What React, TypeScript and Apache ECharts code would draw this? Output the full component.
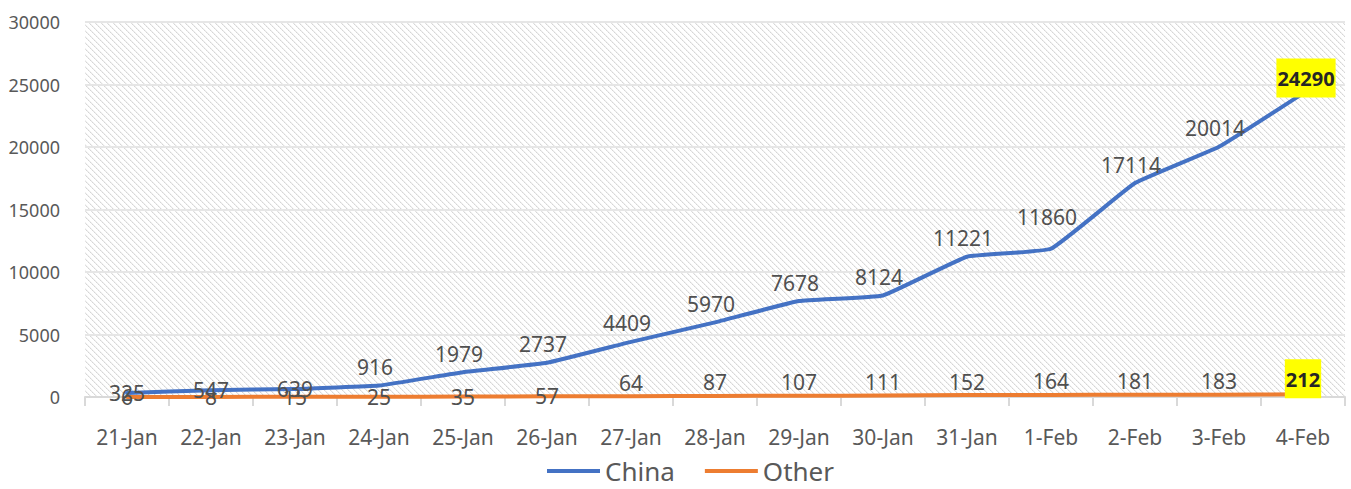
import React, { useEffect, useRef } from "react";
import * as echarts from "echarts";

const categories = ["21-Jan","22-Jan","23-Jan","24-Jan","25-Jan","26-Jan","27-Jan","28-Jan","29-Jan","30-Jan","31-Jan","1-Feb","2-Feb","3-Feb","4-Feb"];
const china = [325, 547, 639, 916, 1979, 2737, 4409, 5970, 7678, 8124, 11221, 11860, 17114, 20014, 24290];
const other = [6, 8, 15, 25, 35, 57, 64, 87, 107, 111, 152, 164, 181, 183, 212];
const chinaCentered = 3;
const otherCentered = 6;

const FONT = "'Noto Sans', 'Open Sans', sans-serif";

function makePattern(): HTMLCanvasElement {
  const n = 6;
  const c = document.createElement("canvas");
  c.width = n;
  c.height = n;
  const ctx = c.getContext("2d")!;
  ctx.fillStyle = "#ffffff";
  ctx.fillRect(0, 0, n, n);
  for (let i = 0; i < n; i++) {
    ctx.fillStyle = i % 2 === 0 ? "#d6d6d6" : "#e2e2e2";
    ctx.fillRect(i, i, 1, 1);
    ctx.fillStyle = "#f2f2f2";
    ctx.fillRect((i + 1) % n, i, 1, 1);
  }
  return c;
}

export default function App() {
  const ref = useRef<HTMLDivElement>(null);
  useEffect(() => {
    const chart = echarts.init(ref.current!, null, { renderer: "svg" });
    const pat = makePattern();
    const last = categories.length - 1;
    const hl = () => ({
      show: true,
      position: "top",
      distance: -4,
      offset: [3, 0],
      fontWeight: "bold",
      color: "#262626",
      backgroundColor: "#ffff00",
      padding: [10, 1, 9, 1],
      fontSize: 20,
    });
    const chinaData = china.map((v, i) => {
      if (i === last) return { value: v, label: hl() };
      if (i < chinaCentered) return { value: v, label: { position: "inside", offset: [0, 0] } };
      if (i === 11) return { value: v, label: { offset: [-4, -13] } };
      return v;
    });
    const otherData = other.map((v, i) => {
      if (i === last) return { value: v, label: { ...hl(), offset: [0, 0] } };
      if (i < otherCentered) return { value: v, label: { position: "inside" } };
      return v;
    });
    chart.setOption({
      animation: false,
      textStyle: { fontFamily: FONT },
      grid: {
        left: 85,
        right: 6,
        top: 22,
        bottom: 92,
        show: true,
        borderWidth: 0,
        backgroundColor: { image: pat.toDataURL(), repeat: "repeat" },
      },
      legend: {
        bottom: 3,
        left: 542,
        padding: [2, 5, 1, 5],
        itemWidth: 53,
        itemHeight: 4,
        itemGap: 30,
        icon: "rect",
        textStyle: { fontSize: 26, lineHeight: 28, color: "#595959", fontFamily: FONT },
        data: ["China", "Other"],
      },
      xAxis: {
        type: "category",
        data: categories,
        boundaryGap: true,
        axisLine: { lineStyle: { color: "#d9d9d9", width: 2 } },
        axisTick: { show: true, length: 9, lineStyle: { color: "#d9d9d9", width: 2 } },
        axisLabel: { color: "#595959", fontSize: 21, margin: 29, fontFamily: FONT },
      },
      yAxis: {
        type: "value",
        min: 0,
        max: 30000,
        interval: 5000,
        axisLine: { show: false },
        axisTick: { show: false },
        splitLine: { lineStyle: { color: "#e6e6e6", width: 2 } },
        axisLabel: {
          color: "#595959",
          fontSize: 18,
          margin: 25,
          fontFamily: FONT,
          formatter: (v: number) => String(v),
        },
      },
      series: [
        {
          name: "China",
          type: "line",
          data: chinaData,
          symbol: "circle",
          symbolSize: 0,
          showSymbol: true,
          smooth: 0.1,
          color: "#4472C4",
          lineStyle: { width: 4, color: "#4472C4", join: "round", cap: "round" },
          label: { show: true, position: "top", distance: 8, offset: [-4, 0], fontSize: 21, color: "#505050", fontFamily: FONT },
          z: 3,
        },
        {
          name: "Other",
          type: "line",
          data: otherData,
          symbol: "circle",
          symbolSize: 0,
          showSymbol: true,
          smooth: 0.1,
          color: "#ED7D31",
          lineStyle: { width: 4, color: "#ED7D31", join: "round", cap: "round" },
          label: { show: true, position: "top", distance: 3, fontSize: 21, color: "#505050", fontFamily: FONT },
          z: 2,
        },
      ],
    });
    return () => chart.dispose();
  }, []);
  return (
    <div
      ref={ref}
      style={{ position: "absolute", left: 0, top: 0, width: 1351, height: 489, background: "#fff" }}
    />
  );
}
